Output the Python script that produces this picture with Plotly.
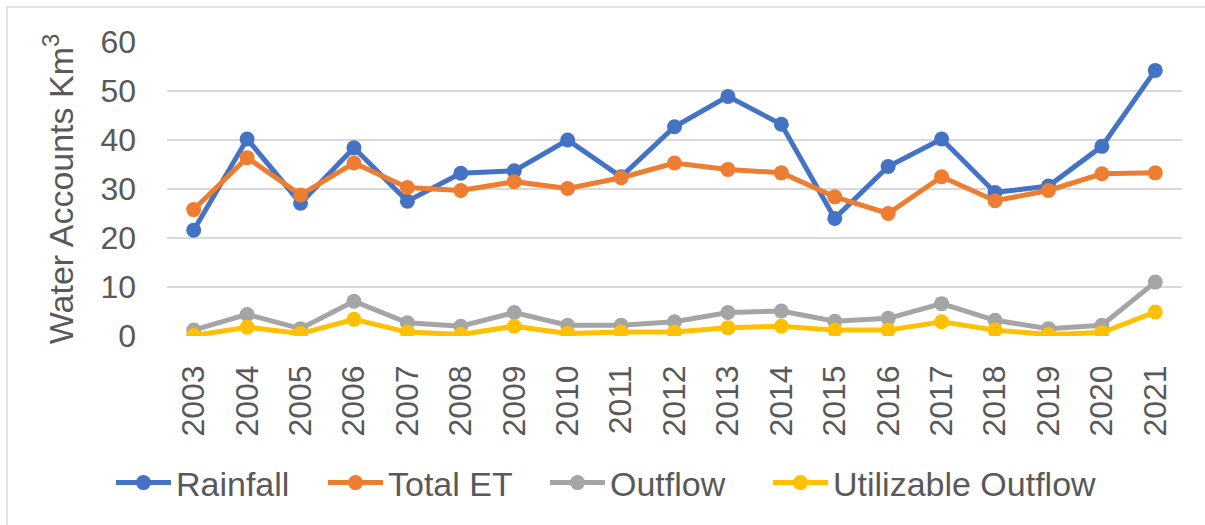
import plotly.graph_objects as go

years = [str(y) for y in range(2003, 2022)]

rainfall = [21.6, 40.2, 27.1, 38.4, 27.5, 33.2, 33.7, 40.0, 32.5, 42.7,
            48.9, 43.2, 24.0, 34.6, 40.2, 29.3, 30.6, 38.7, 54.2]
total_et = [25.8, 36.4, 28.8, 35.3, 30.3, 29.7, 31.5, 30.1, 32.3, 35.3,
            34.0, 33.3, 28.4, 25.0, 32.5, 27.6, 29.7, 33.1, 33.3]
outflow = [1.2, 4.4, 1.5, 7.1, 2.7, 2.0, 4.8, 2.2, 2.2, 2.9,
           4.8, 5.1, 3.0, 3.6, 6.6, 3.2, 1.5, 2.2, 11.0]
utilizable = [0.1, 1.8, 0.5, 3.4, 0.8, 0.3, 2.0, 0.5, 0.8, 0.8,
              1.7, 2.0, 1.2, 1.2, 2.9, 1.2, 0.3, 0.7, 4.9]

series = [
    ("Rainfall", rainfall, "#4472C4"),
    ("Total ET", total_et, "#ED7D31"),
    ("Outflow", outflow, "#A5A5A5"),
    ("Utilizable Outflow", utilizable, "#FFC000"),
]

# horizontal anchor (paper units) of each legend entry
legend_x = [-0.0552, 0.1537, 0.3724, 0.5921]

FONT = "Liberation Sans"
TEXT = "#595959"

fig = go.Figure()
legend_ids = ["legend", "legend2", "legend3", "legend4"]
for (name, vals, color), lid in zip(series, legend_ids):
    fig.add_trace(go.Scatter(
        x=years, y=vals, name=name, mode="lines+markers",
        line=dict(color=color, width=5),
        marker=dict(color=color, size=15),
        legend=lid,
    ))

legend_style = dict(
    orientation="h", xanchor="left", y=-0.5, yanchor="middle",
    font=dict(family=FONT, size=34, color=TEXT),
    itemwidth=55, bgcolor="rgba(0,0,0,0)",
)

fig.update_layout(
    width=1205, height=525,
    margin=dict(l=167, r=23, t=42, b=189),
    paper_bgcolor="white", plot_bgcolor="white",
    font=dict(family=FONT, size=31, color=TEXT),
    showlegend=True,
    xaxis=dict(
        type="category", range=[-0.5, 18.5],
        tickangle=-90, showgrid=False, showline=False, zeroline=False,
        ticks="", ticklabelstandoff=22,
        tickfont=dict(family=FONT, size=32, color=TEXT),
    ),
    yaxis=dict(
        range=[0, 60], dtick=10, showgrid=True,
        gridcolor="#D9D9D9", gridwidth=1.5, zeroline=False, showline=False,
        ticks="", ticklabelstandoff=30,
        tickfont=dict(family=FONT, size=32, color=TEXT),
        title=dict(text="Water Accounts Km<sup>3</sup>", standoff=16,
                   font=dict(family=FONT, size=34, color=TEXT)),
    ),
)
for lid, lx in zip(legend_ids, legend_x):
    fig.update_layout({lid: dict(legend_style, x=lx)})

# outer chart frame
fig.add_shape(type="rect", xref="paper", yref="paper",
              x0=(7 - 167) / 1015, x1=(1215 - 167) / 1015,
              y0=(336 - 535) / 294, y1=(336 - 7) / 294,
              line=dict(color="#D9D9D9", width=1.5), fillcolor="rgba(0,0,0,0)",
              layer="below")

fig.write_html("out.html")
